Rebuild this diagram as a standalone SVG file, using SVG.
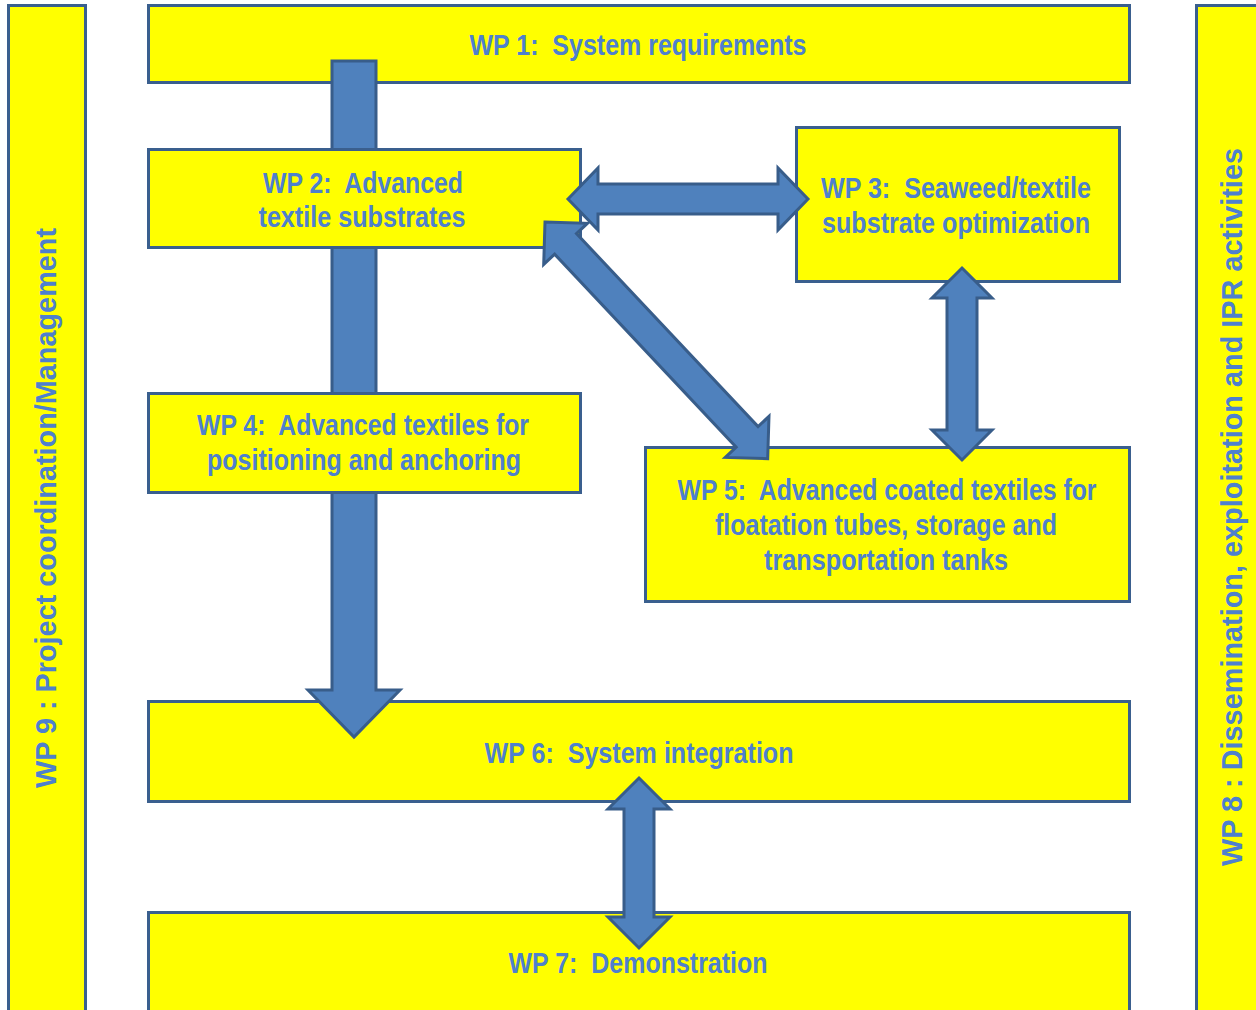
<svg xmlns="http://www.w3.org/2000/svg" width="1256" height="1010" viewBox="0 0 1256 1010">
<style>
.box{fill:#FFFF00;stroke:#3A5F8E;stroke-width:3}
.arr{fill:#4F81BD;stroke:#385D8A;stroke-width:3;stroke-linejoin:miter}
.t{font-family:"Liberation Sans Narrow","Liberation Sans",Arial,sans-serif;font-weight:bold;font-size:30px;fill:#4E80CE;text-anchor:middle;white-space:pre}
.v{font-family:"Liberation Sans",Arial,sans-serif;font-weight:bold;font-size:29px;fill:#4E80CE;text-anchor:middle}
</style>
<rect width="1256" height="1010" fill="#FFFFFF"/>
<g id="wp9">
<rect class="box" x="8.5" y="5.5" width="77" height="1030"/>
<text class="v" transform="translate(56,508) rotate(-90)" textLength="560" lengthAdjust="spacingAndGlyphs">WP 9 : Project coordination/Management</text>
</g>
<g id="wp8">
<rect class="box" x="1196.5" y="5.5" width="100" height="1030"/>
<text class="v" transform="translate(1242,507) rotate(-90)" textLength="718" lengthAdjust="spacingAndGlyphs">WP 8 : Dissemination, exploitation and IPR activities</text>
</g>
<g id="wp1">
<rect class="box" x="148.5" y="5.5" width="981" height="77"/>
<text class="t" x="638" y="55" textLength="337" lengthAdjust="spacingAndGlyphs">WP 1:  System requirements</text>
</g>
<g id="wp6">
<rect class="box" x="148.5" y="701.5" width="981" height="100"/>
<text class="t" x="639" y="763" textLength="309" lengthAdjust="spacingAndGlyphs">WP 6:  System integration</text>
</g>
<g id="wp7">
<rect class="box" x="148.5" y="912.5" width="981" height="120"/>
<text class="t" x="638" y="973" textLength="259" lengthAdjust="spacingAndGlyphs">WP 7:  Demonstration</text>
</g>
<g id="connectors-trunk">
<polygon class="arr" points="332,61 376,61 376,690 400,690 354,737 308,690 332,690"/>
</g>
<g id="wp2">
<rect class="box" x="148.5" y="149.5" width="432" height="98"/>
<text class="t" x="363" y="193" textLength="200" lengthAdjust="spacingAndGlyphs">WP 2:  Advanced</text>
<text class="t" x="362" y="227" textLength="207" lengthAdjust="spacingAndGlyphs">textile substrates</text>
</g>
<g id="wp3">
<rect class="box" x="796.5" y="127.5" width="323" height="154"/>
<text class="t" x="956" y="198" textLength="270" lengthAdjust="spacingAndGlyphs">WP 3:  Seaweed/textile</text>
<text class="t" x="956" y="233" textLength="268" lengthAdjust="spacingAndGlyphs">substrate optimization</text>
</g>
<g id="wp4">
<rect class="box" x="148.5" y="393.5" width="432" height="99"/>
<text class="t" x="363" y="435" textLength="332" lengthAdjust="spacingAndGlyphs">WP 4:  Advanced textiles for</text>
<text class="t" x="364" y="470" textLength="314" lengthAdjust="spacingAndGlyphs">positioning and anchoring</text>
</g>
<g id="wp5">
<rect class="box" x="645.5" y="447.5" width="484" height="154"/>
<text class="t" x="887" y="500" textLength="419" lengthAdjust="spacingAndGlyphs">WP 5:  Advanced coated textiles for</text>
<text class="t" x="886" y="535" textLength="342" lengthAdjust="spacingAndGlyphs">floatation tubes, storage and</text>
<text class="t" x="886" y="570" textLength="244" lengthAdjust="spacingAndGlyphs">transportation tanks</text>
</g>
<g id="connectors">
<polygon class="arr" points="568,199 598,168 598,184 778,184 778,168 808,199 778,230 778,214 598,214 598,230"/>
<path class="arr" transform="translate(545,222) rotate(46.75)" d="M0,0 L30,-30 L30,-15 L295,-15 L295,-30 L325,0 L295,30 L295,15 L30,15 L30,30 Z"/>
<polygon class="arr" points="962,268 992,298 977,298 977,430 992,430 962,460 932,430 947,430 947,298 932,298"/>
<polygon class="arr" points="639,778 670,809 654,809 654,917 670,917 639,948 608,917 624,917 624,809 608,809"/>
</g>
</svg>
